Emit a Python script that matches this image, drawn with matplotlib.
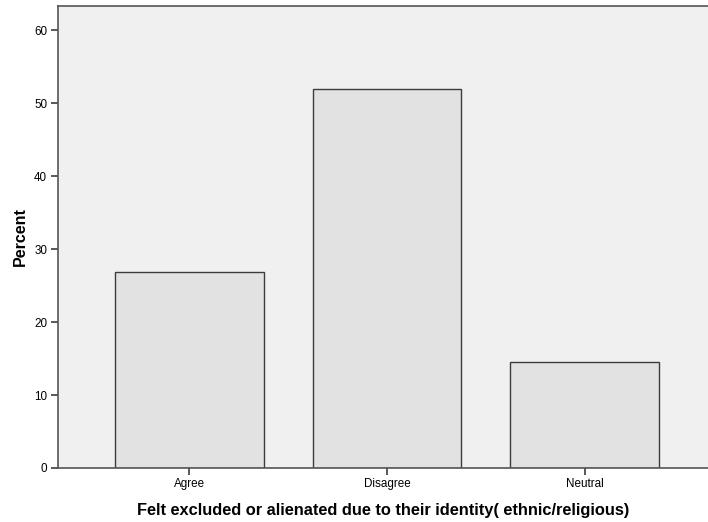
import matplotlib
matplotlib.use("Agg")
import matplotlib.pyplot as plt

categories = ["Agree", "Disagree", "Neutral"]
percent = [26.8, 51.9, 14.5]
yticks = [0, 10, 20, 30, 40, 50, 60]

plt.rcParams['font.family'] = ['Liberation Sans', 'DejaVu Sans']

fig = plt.figure(figsize=(7.08, 5.22), dpi=100)
fig.patch.set_facecolor('white')
ax = fig.add_axes([57.5/708, 54/522, (708-57.5)/708, (468-5.5)/522])
ax.set_facecolor('#F0F0F0')

x = list(range(len(categories)))
ax.bar(x, percent, width=0.752, color='#E2E2E2', edgecolor='#3C3C3C', linewidth=1.0, zorder=2)

ax.set_xlim(-0.668, 2.625)
ax.set_ylim(0, 63.4)
ax.set_xticks(x)
ax.set_xticklabels(categories, fontsize=8.4)
ax.set_yticks(yticks)
ax.set_yticklabels([str(t) for t in yticks], fontsize=8.4)
ax.tick_params(axis='both', direction='out', length=5, width=1.2, color='#3C3C3C', pad=2.5)

for s in ['left', 'bottom', 'top']:
    ax.spines[s].set_color('#555555')
    ax.spines[s].set_linewidth(1.2)
ax.spines['right'].set_visible(False)

ax.set_ylabel('Percent', fontsize=11.5, fontweight='bold', labelpad=4.5)
ax.set_xlabel('Felt excluded or alienated due to their identity( ethnic/religious)', fontsize=11.8, fontweight='bold', labelpad=9)

fig.savefig('out.png', dpi=100)
